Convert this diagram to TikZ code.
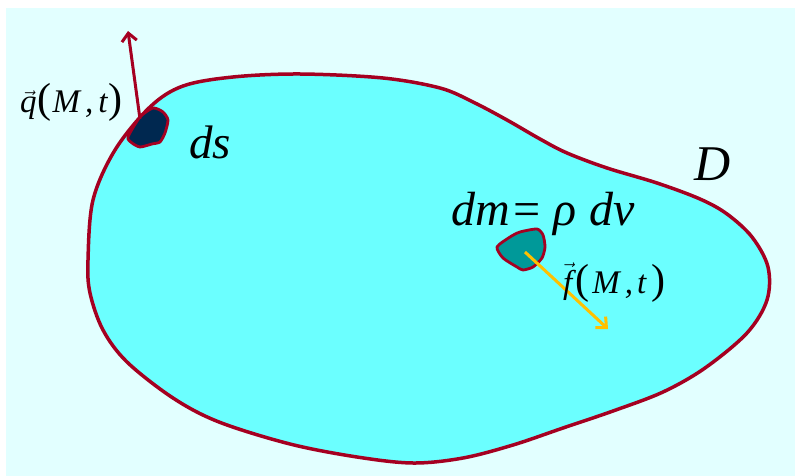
\documentclass[tikz,border=0pt]{standalone}
\usepackage{fontspec}
\setmainfont{Liberation Serif}
\usetikzlibrary{arrows.meta}
\definecolor{bgc}{HTML}{E2FFFF}
\definecolor{blobc}{HTML}{6BFFFF}
\definecolor{edgec}{HTML}{A50021}
\definecolor{navy}{HTML}{002850}
\definecolor{tealc}{HTML}{009999}
\definecolor{gold}{HTML}{FFC000}
\newcommand{\bigpar}[1]{{\fontsize{42}{44}\selectfont\upshape #1}}
\begin{document}
\begin{tikzpicture}[x=1pt,y=-1pt,
  edge/.style={draw=edgec,line width=3.5pt},
  patch/.style={draw=edgec,line width=2.8pt,line join=round},
  lbl/.style={inner sep=0pt,anchor=base west}]
\useasboundingbox (0,0) rectangle (798,476);
\fill[white] (0,0) rectangle (798,476);
\fill[bgc] (6,8) rectangle (795,476);
% domain D
\draw[edge,fill=blobc] plot[smooth cycle,tension=0.55] coordinates {
 (300,74) (233,77) (183,86) (150,107) (115,150) (93,200) (88,260) (90,293)
 (103,330) (127,362) (173,398) (219,422) (290,444) (357,457) (413,463)
 (463,458) (513,445) (563,428) (613,411) (663,392) (705,368) (747,333)
 (767,300) (768,267) (752,237) (727,214) (700,199) (657,183) (607,168)
 (567,153) (540,139) (507,120) (473,102) (440,88) (383,78)};
% surface element ds
\draw[patch,fill=navy] plot[smooth cycle,tension=0.4] coordinates {
 (128,137) (140,117) (153,108) (163,112) (168,120) (165,133) (160,142)
 (152,144) (140,147) (132,143)};
\coordinate (qs) at (140,119);
\coordinate (qe) at (128,31);
\draw[edgec,line width=3pt,-{Straight Barb[length=8pt,width=15pt]}] (qs) -- (qe);
% volume element dm
\draw[patch,fill=tealc] plot[smooth cycle,tension=0.4] coordinates {
 (497,247) (510,237) (520,232) (537,229) (543,235) (545,247) (542,258)
 (533,267) (523,270) (517,267) (503,258)};
\coordinate (fs) at (525,252);
\coordinate (fe) at (608,329);
\draw[gold,line width=3pt,-{Straight Barb[length=8pt,width=15pt]}] (fs) -- (fe);
% labels
\node[lbl,font=\fontsize{33}{35}\selectfont\itshape] (ql) at (20,113)
  {$\vec{\textit{q}}$\hspace{1pt}\bigpar{(}\hspace{1pt}M\hspace{5pt},\hspace{5pt}t\hspace{1pt}\bigpar{)}};
\node[lbl,font=\fontsize{47}{50}\selectfont\itshape] (dsl) at (189,158) {ds};
\node[lbl,font=\fontsize{50}{54}\selectfont\itshape] (Dl) at (694,181) {D};
\node[lbl,font=\fontsize{48}{52}\selectfont\itshape] (dml) at (451,225)
  {dm\hspace{1pt}=\hspace{10pt}ρ\hspace{13pt}dv};
\node[lbl,font=\fontsize{33}{35}\selectfont\itshape] (fl) at (563,293)
  {$\vec{\textit{f}}$\hspace{3pt}\bigpar{(}\hspace{3pt}M\hspace{5pt},\hspace{4pt}t\hspace{5pt}\bigpar{)}};
\end{tikzpicture}
\end{document}
